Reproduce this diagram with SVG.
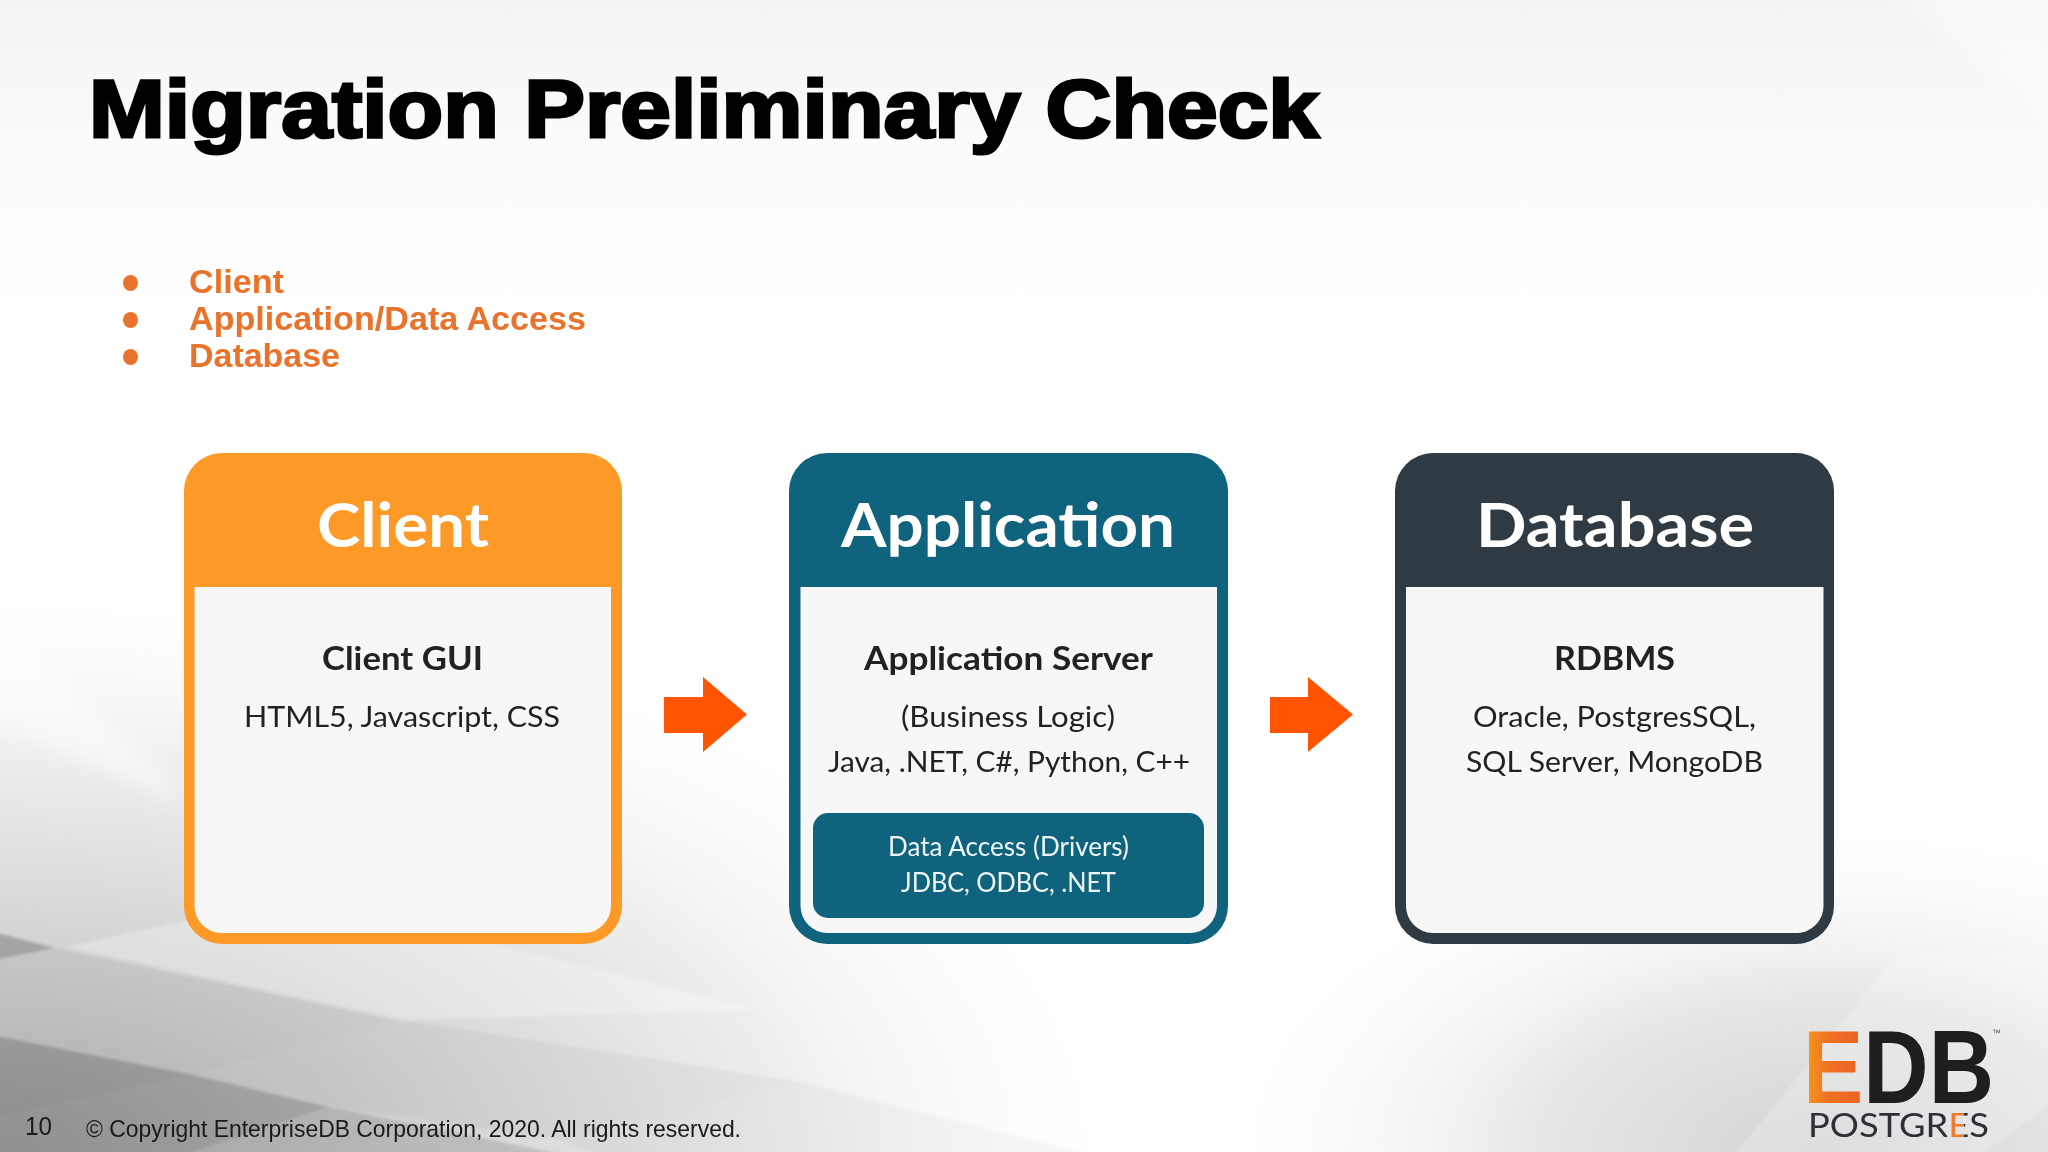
<svg xmlns="http://www.w3.org/2000/svg" width="2048" height="1152" viewBox="0 0 2048 1152">
  <style>
    .sans { font-family: "Liberation Sans", Arial, sans-serif; }
    .ui { font-family: Lato, "Open Sans", sans-serif; }
    .head { font-size: 61px; font-weight: 700; fill: #fff; }
    .sub { font-size: 32px; font-weight: 700; fill: #222; }
    .body { font-size: 29px; font-weight: 400; fill: #222; }
    .drv { font-size: 26px; font-weight: 400; fill: #eef5f7; }
    .bul { font-size: 33px; font-weight: 700; fill: #e8742c; }
    .dot { fill: #e8742c; }
    .inner { fill: #f7f7f7; }
    .arrow { fill: #ff5500; }
  </style>
  <defs>
    <linearGradient id="base" x1="0" y1="0" x2="0" y2="1">
      <stop offset="0" stop-color="#f3f3f3"/><stop offset="0.12" stop-color="#fbfbfb"/><stop offset="0.28" stop-color="#fff"/><stop offset="1" stop-color="#fff"/>
    </linearGradient>
    <radialGradient id="bl" gradientUnits="userSpaceOnUse" cx="0" cy="1152" r="1150" gradientTransform="translate(0 1152) scale(1 0.5) translate(0 -1152)">
      <stop offset="0" stop-color="#b4b4b4"/><stop offset="0.35" stop-color="#d2d2d2"/><stop offset="0.7" stop-color="#efefef"/><stop offset="1" stop-color="#fff" stop-opacity="0"/>
    </radialGradient>
    <radialGradient id="br" gradientUnits="userSpaceOnUse" cx="1820" cy="1152" r="620" gradientTransform="translate(1820 1152) scale(1 0.55) translate(-1820 -1152)">
      <stop offset="0" stop-color="#d4d4d4"/><stop offset="0.45" stop-color="#e6e6e6"/><stop offset="1" stop-color="#fff" stop-opacity="0"/>
    </radialGradient>
    <linearGradient id="edbFill" gradientUnits="userSpaceOnUse" x1="1810" y1="0" x2="1990" y2="0">
      <stop offset="0" stop-color="#f5901e"/><stop offset="0.1" stop-color="#ef7222"/><stop offset="0.3" stop-color="#ee6024"/><stop offset="0.31" stop-color="#1e1e20"/><stop offset="1" stop-color="#1e1e20"/>
    </linearGradient>
    <linearGradient id="pgFill" gradientUnits="userSpaceOnUse" x1="1808" y1="0" x2="1989" y2="0">
      <stop offset="0" stop-color="#2e3038"/><stop offset="0.768" stop-color="#2e3038"/><stop offset="0.768" stop-color="#ee7a2d"/><stop offset="0.86" stop-color="#ee7a2d"/><stop offset="0.86" stop-color="#2e3038"/><stop offset="1" stop-color="#2e3038"/>
    </linearGradient>
    <filter id="soft" filterUnits="userSpaceOnUse" x="-40" y="-40" width="2128" height="1232"><feGaussianBlur stdDeviation="1.6"/></filter>
    <filter id="softer" filterUnits="userSpaceOnUse" x="-40" y="-40" width="2128" height="1232"><feGaussianBlur stdDeviation="12"/></filter>
  </defs>

  <g id="background">
    <rect width="2048" height="1152" fill="url(#base)"/>
    <rect x="0" y="560" width="1300" height="592" fill="url(#bl)"/>
    <rect x="1200" y="800" width="848" height="352" fill="url(#br)"/>
    <g filter="url(#softer)">
      <polygon points="-20,715 190,806 190,800 -20,600" fill="#fff" opacity="0.55"/>
      <polygon points="1880,-20 2070,-20 2070,140" fill="#fff" opacity="0.5"/>
    </g>
    <g filter="url(#soft)">
      <polygon points="-10,931 55,948 -10,961" fill="#000" opacity="0.22"/>
      <polygon points="66,947 300,895 760,1010 403,1020" fill="#fff" opacity="0.28"/>
      <polygon points="55,948 403,1020 193,1075 -10,1037 -10,962" fill="#000" opacity="0.05"/>
      <polygon points="-10,1035 193,1075 -10,1119" fill="#000" opacity="0.22"/>
      <polygon points="-10,1119 193,1075 328,1107 140,1170 -10,1170" fill="#000" opacity="0.2"/>
      <polygon points="328,1107 640,1170 140,1170" fill="#000" opacity="0.12"/>
      <polygon points="403,1020 800,1082 561,1140 328,1107 193,1075" fill="#000" opacity="0.04"/>
      <polygon points="800,1082 1152,1170 640,1170 561,1140" fill="#000" opacity="0.03"/>
      <polygon points="1722,1170 1898,953 2070,953 2070,1090 1960,1170" fill="#fff" opacity="0.22"/>
    </g>
  </g>

  <g id="title">
    <text class="sans" x="89" y="137" font-size="81" font-weight="700" fill="#000" stroke="#000" stroke-width="3" textLength="1230" lengthAdjust="spacingAndGlyphs">Migration Preliminary Check</text>
  </g>

  <g id="bullets">
    <ellipse class="dot" cx="130.5" cy="283" rx="7.5" ry="8"/>
    <ellipse class="dot" cx="130.5" cy="320" rx="7.5" ry="8"/>
    <ellipse class="dot" cx="130.5" cy="357" rx="7.5" ry="8"/>
    <text class="sans bul" x="189" y="293" textLength="95" lengthAdjust="spacingAndGlyphs">Client</text>
    <text class="sans bul" x="189" y="330" textLength="397" lengthAdjust="spacingAndGlyphs">Application/Data Access</text>
    <text class="sans bul" x="189" y="367" textLength="151" lengthAdjust="spacingAndGlyphs">Database</text>
  </g>

  <g id="node-client">
    <rect x="184" y="453" width="438" height="491" rx="38" fill="#fd9926"/>
    <path class="inner" d="M194.500 587H611V906a27 27 0 0 1-27 27H221.500a27 27 0 0 1-27-27Z"/>
    <text class="ui head" x="317" y="547" textLength="172" lengthAdjust="spacingAndGlyphs">Client</text>
    <text class="ui sub" x="322" y="670" textLength="161" lengthAdjust="spacingAndGlyphs">Client GUI</text>
    <text class="ui body" x="244" y="727" textLength="316" lengthAdjust="spacingAndGlyphs">HTML5, Javascript, CSS</text>
  </g>

  <g id="node-application">
    <rect x="789" y="453" width="439" height="491" rx="38" fill="#0f637c"/>
    <path class="inner" d="M800.500 587H1217V906a27 27 0 0 1-27 27H827.500a27 27 0 0 1-27-27Z"/>
    <text class="ui head" x="841" y="547" textLength="334" lengthAdjust="spacingAndGlyphs">Application</text>
    <text class="ui sub" x="864" y="670" textLength="289" lengthAdjust="spacingAndGlyphs">Application Server</text>
    <text class="ui body" x="901" y="727" textLength="214" lengthAdjust="spacingAndGlyphs">(Business Logic)</text>
    <text class="ui body" x="828" y="772" textLength="362" lengthAdjust="spacingAndGlyphs">Java, .NET, C#, Python, C++</text>
    <g id="node-data-access">
      <rect x="813" y="813" width="391" height="105" rx="15" fill="#0f637c"/>
      <text class="ui drv" x="888" y="856" textLength="241" lengthAdjust="spacingAndGlyphs">Data Access (Drivers)</text>
      <text class="ui drv" x="901" y="892" textLength="215" lengthAdjust="spacingAndGlyphs">JDBC, ODBC, .NET</text>
    </g>
  </g>

  <g id="node-database">
    <rect x="1395" y="453" width="439" height="491" rx="38" fill="#2f3a42"/>
    <path class="inner" d="M1406 587H1823.500V906a27 27 0 0 1-27 27H1433a27 27 0 0 1-27-27Z"/>
    <text class="ui head" x="1476" y="547" textLength="278" lengthAdjust="spacingAndGlyphs">Database</text>
    <text class="ui sub" x="1554" y="670" textLength="121" lengthAdjust="spacingAndGlyphs">RDBMS</text>
    <text class="ui body" x="1473" y="727" textLength="283" lengthAdjust="spacingAndGlyphs">Oracle, PostgresSQL,</text>
    <text class="ui body" x="1466" y="772" textLength="297" lengthAdjust="spacingAndGlyphs">SQL Server, MongoDB</text>
  </g>

  <g id="connectors">
    <polygon class="arrow" points="664,697 703,697 703,677 747,714.500 703,752 703,733 664,733"/>
    <polygon class="arrow" points="1270,697 1308,697 1308,677 1353,714.500 1308,752 1308,733 1270,733"/>
  </g>

  <g id="footer">
    <text class="sans" x="25" y="1135" font-size="25" fill="#1a1a1a" textLength="27" lengthAdjust="spacingAndGlyphs">10</text>
    <text class="sans" x="86" y="1137" font-size="24" fill="#1a1a1a" textLength="655" lengthAdjust="spacingAndGlyphs">© Copyright EnterpriseDB Corporation, 2020. All rights reserved.</text>
  </g>

  <g id="logo">
    <text class="sans" x="1803" y="1103" font-size="103" font-weight="700" fill="url(#edbFill)" textLength="191" lengthAdjust="spacingAndGlyphs">EDB</text>
    <text class="sans" x="1992" y="1036" font-size="9" fill="#555">™</text>
    <text class="ui" x="1808" y="1137" font-size="32" font-weight="400" fill="url(#pgFill)" textLength="181" lengthAdjust="spacingAndGlyphs">POSTGRES</text>
  </g>
</svg>
